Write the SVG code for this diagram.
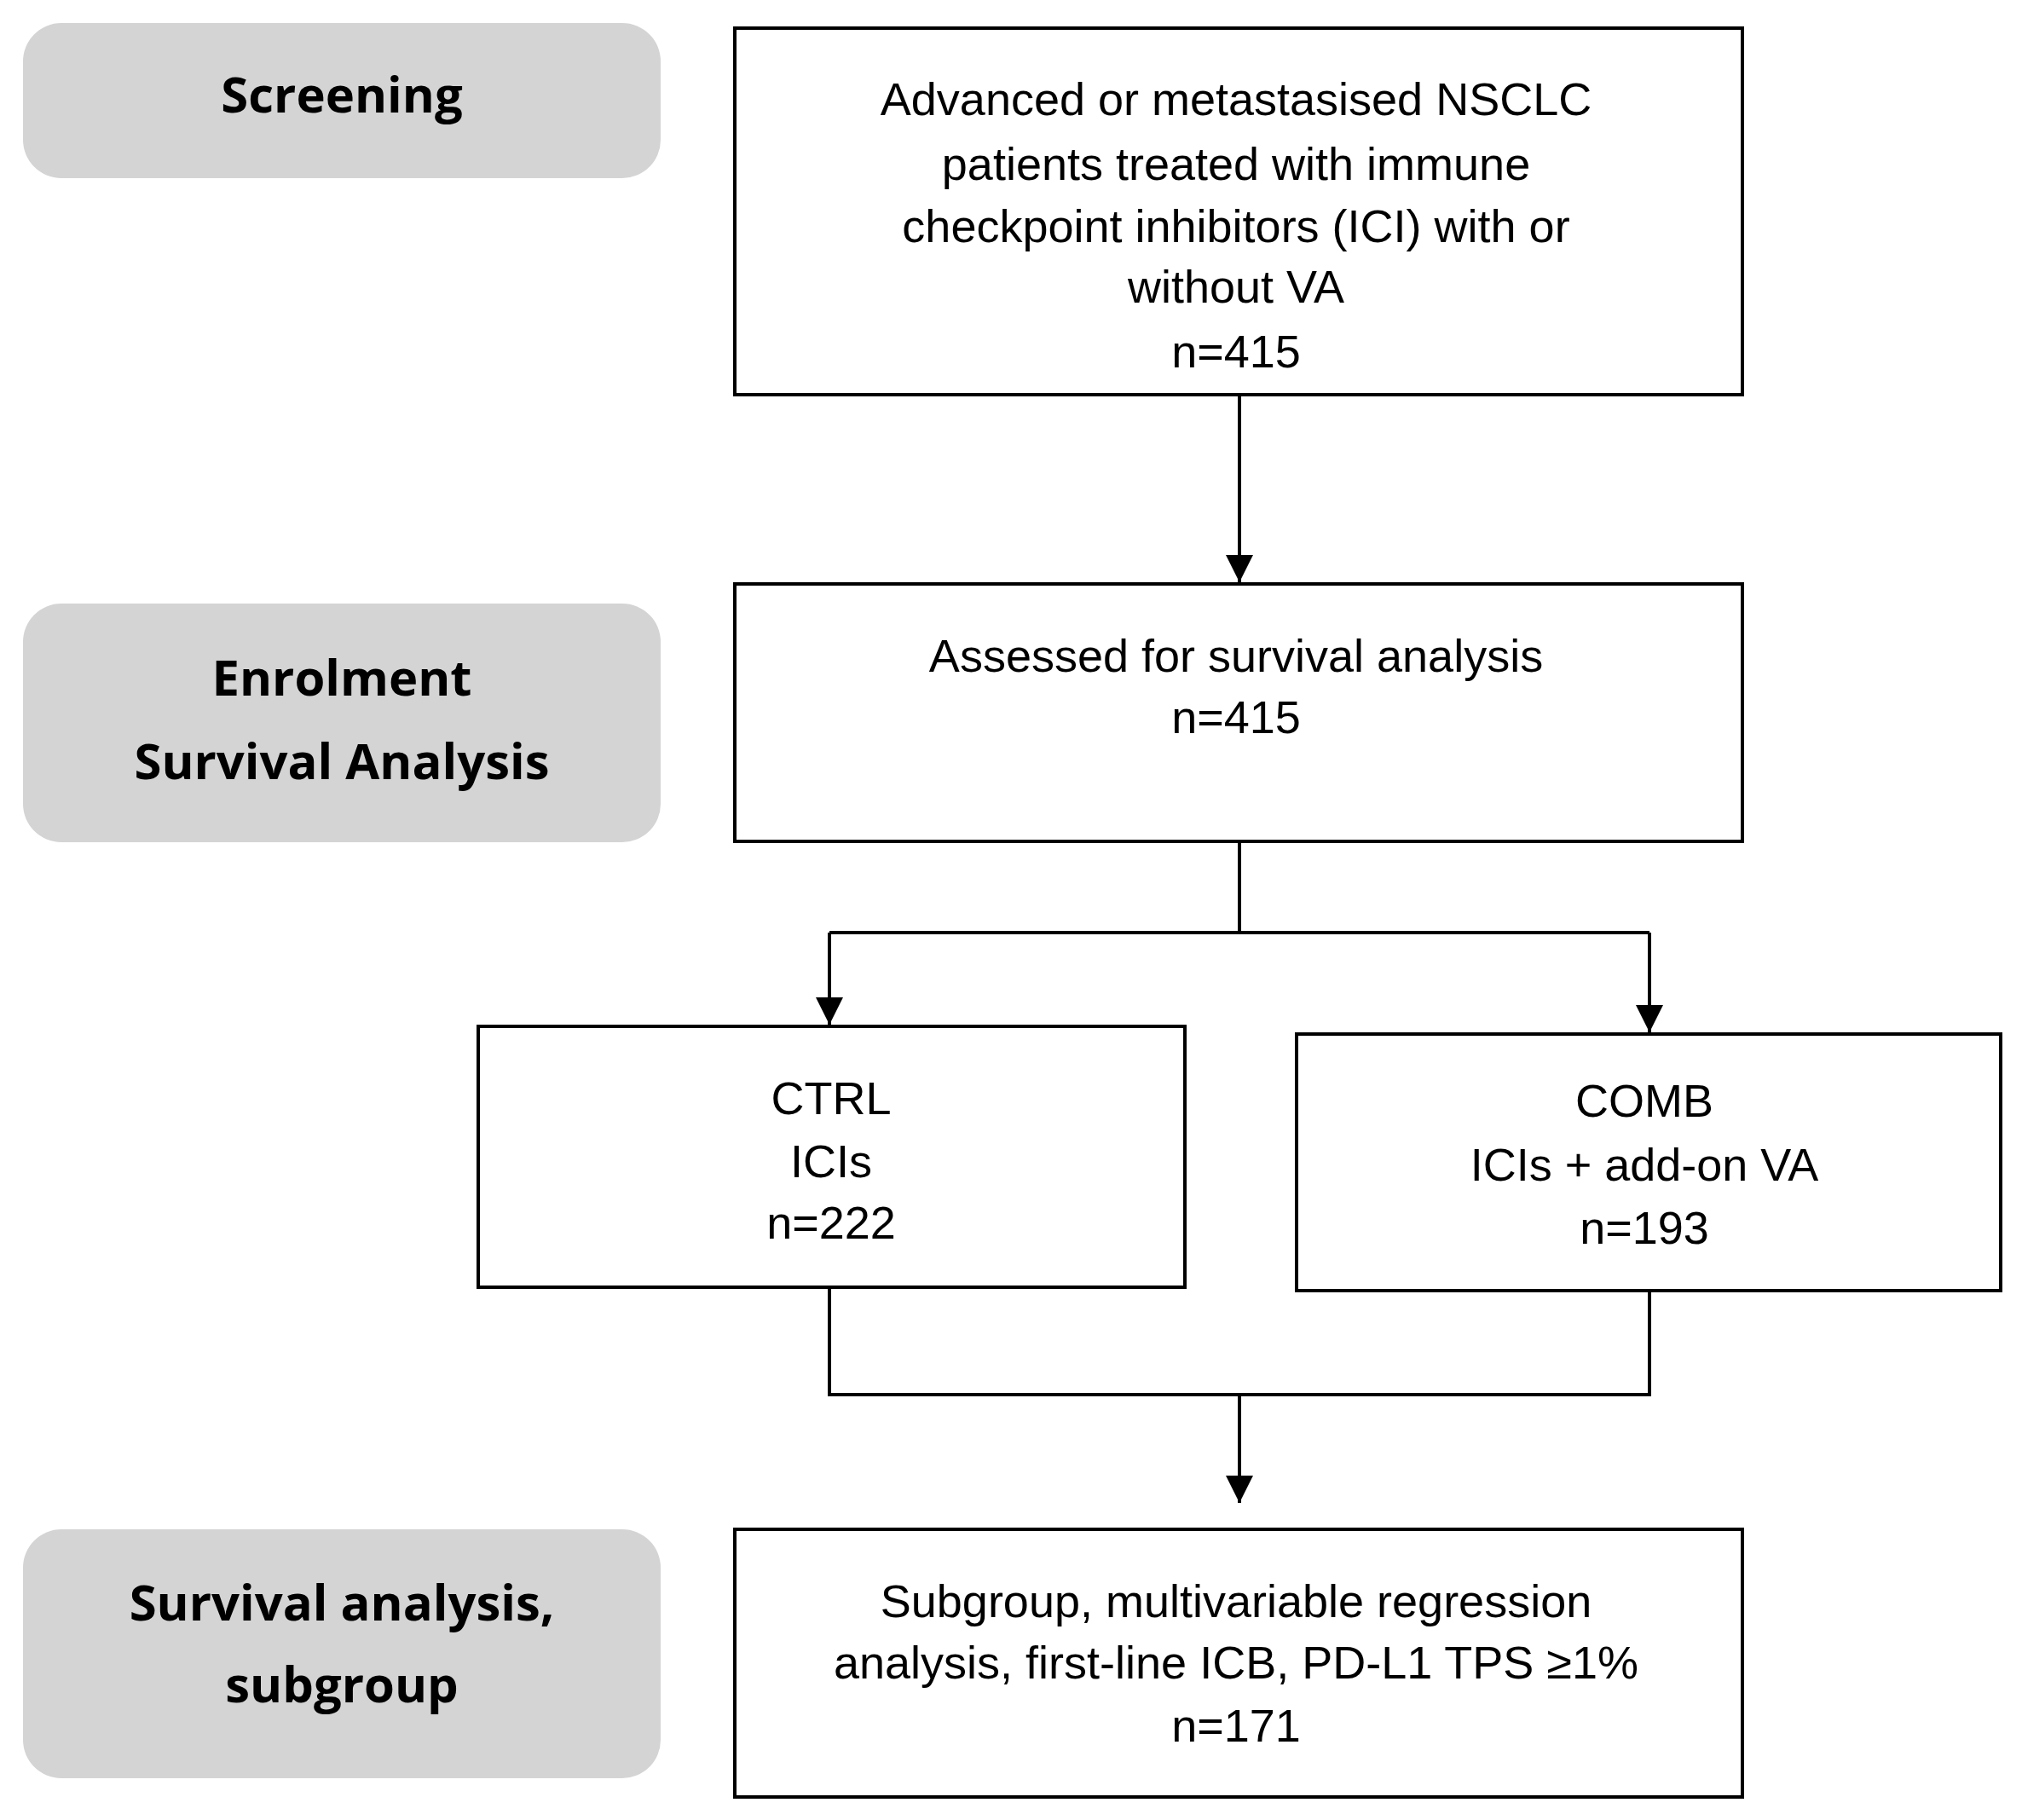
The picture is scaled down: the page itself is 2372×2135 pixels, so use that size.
<svg xmlns="http://www.w3.org/2000/svg" width="2372" height="2135" viewBox="0 0 2372 2135">
<style>
.pill{fill:#d4d4d4}
.box{fill:#fff;stroke:#000;stroke-width:4}
.t{font-family:"Liberation Sans",Arial,sans-serif;font-size:54px;text-anchor:middle;dominant-baseline:central;fill:#000}
.h{font-family:"Open Sans","DejaVu Sans",sans-serif;font-weight:bold;font-size:58px;text-anchor:middle;dominant-baseline:central;fill:#000}
.c{fill:none;stroke:#000;stroke-width:4}
</style>
<defs><marker id="ah" viewBox="0 0 10 10" refX="10" refY="5" markerWidth="8" markerHeight="9" markerUnits="strokeWidth" orient="auto"><path d="M0,0 L10,5 L0,10 z" fill="#000"/></marker></defs>
<rect width="2372" height="2135" fill="#fff"/>
<g id="stage1"><rect class="pill" x="27" y="27" width="748" height="182" rx="45"/><text class="h" x="401" y="109">Screening</text></g>
<g id="stage2"><rect class="pill" x="27" y="708" width="748" height="280" rx="45"/><text class="h" x="401" y="793">Enrolment</text><text class="h" x="401" y="891">Survival  Analysis</text></g>
<g id="stage3"><rect class="pill" x="27" y="1794" width="748" height="292" rx="45"/><text class="h" x="401" y="1878">Survival  analysis,</text><text class="h" x="401" y="1974">subgroup</text></g>
<g id="box1"><rect class="box" x="862" y="33" width="1182" height="430"/>
<text class="t" x="1450" y="116">Advanced  or  metastasised NSCLC</text>
<text class="t" x="1450" y="192">patients treated with immune</text>
<text class="t" x="1450" y="265">checkpoint inhibitors (ICI) with or</text>
<text class="t" x="1450" y="336">without  VA</text>
<text class="t" x="1450" y="412">n=415</text></g>
<g id="box2"><rect class="box" x="862" y="685" width="1182" height="302"/>
<text class="t" x="1450" y="769">Assessed for  survival   analysis</text>
<text class="t" x="1450" y="841">n=415</text></g>
<g id="ctrl"><rect class="box" x="561" y="1204" width="829" height="306"/>
<text class="t" x="975" y="1288">CTRL</text><text class="t" x="975" y="1362">ICIs</text><text class="t" x="975" y="1434">n=222</text></g>
<g id="comb"><rect class="box" x="1521" y="1213" width="826" height="301"/>
<text class="t" x="1929" y="1291">COMB</text><text class="t" x="1929" y="1366">ICIs  +  add-on  VA</text><text class="t" x="1929" y="1440">n=193</text></g>
<g id="box4"><rect class="box" x="862" y="1794" width="1182" height="314"/>
<text class="t" x="1450" y="1878">Subgroup,  multivariable  regression</text>
<text class="t" x="1450" y="1950">analysis, first-line  ICB,  PD-L1 TPS ≥1%</text>
<text class="t" x="1450" y="2024">n=171</text></g>
<g id="connectors">
<path class="c" d="M1454,463 V683" marker-end="url(#ah)"/>
<path class="c" d="M1454,987 V1094"/>
<path class="c" d="M973,1094 H1935"/>
<path class="c" d="M973,1094 V1202" marker-end="url(#ah)"/>
<path class="c" d="M1935,1094 V1211" marker-end="url(#ah)"/>
<path class="c" d="M973,1510 V1636 H1935 V1514"/>
<path class="c" d="M1454,1636 V1763" marker-end="url(#ah)"/>
</g>
</svg>
